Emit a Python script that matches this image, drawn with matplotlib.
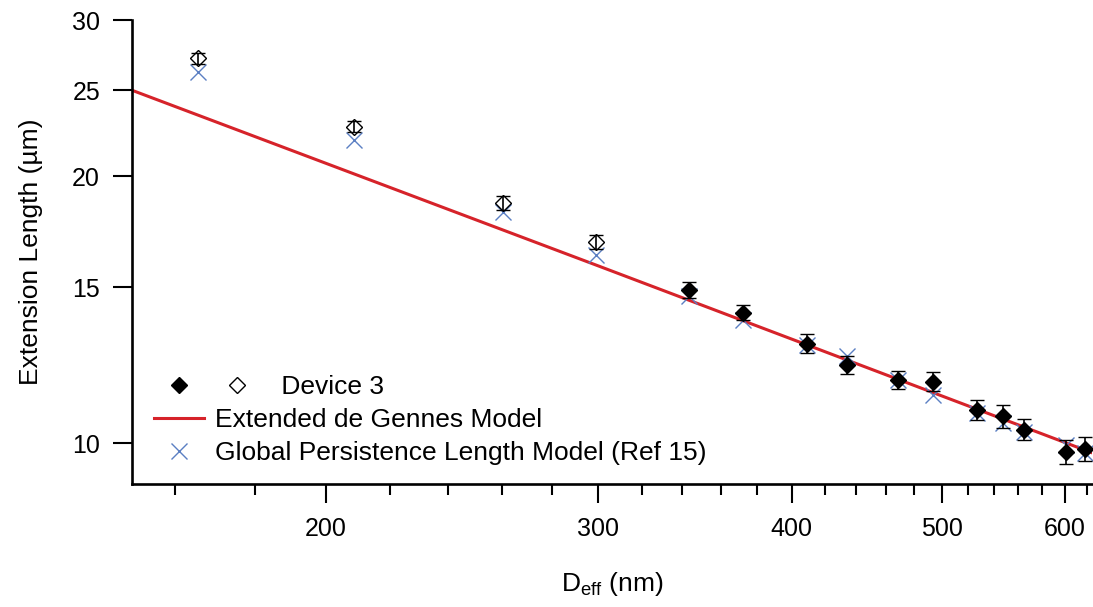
import matplotlib
matplotlib.use('Agg')
import matplotlib.pyplot as plt
from matplotlib.lines import Line2D
from matplotlib.legend_handler import HandlerBase
from matplotlib.ticker import FixedLocator, NullFormatter, NullLocator

plt.rcParams['font.family'] = ['Liberation Sans', 'DejaVu Sans']
plt.rcParams['mathtext.fontset'] = 'custom'
plt.rcParams['mathtext.rm'] = 'Liberation Sans'
plt.rcParams['mathtext.it'] = 'Liberation Sans:italic'

# ---- data ----
d_open = [165.4, 208.8, 260.4, 298.8]
ext_open = [27.16, 22.75, 18.65, 16.88]
err_open = [0.40, 0.33, 0.33, 0.30]

d_filled = [343.4, 371.8, 409.0, 434.0, 468.6, 493.7, 526.7, 547.8, 565.2, 601.2, 618.5]
ext_filled = [14.90, 14.04, 12.95, 12.26, 11.80, 11.74, 10.91, 10.73, 10.36, 9.79, 9.86]
err_filled = [0.31, 0.28, 0.32, 0.28, 0.27, 0.28, 0.29, 0.31, 0.28, 0.31, 0.30]

d_gplm = [165.4, 208.8, 260.4, 298.8, 343.4, 371.8, 409.0, 434.0, 468.6, 493.7,
          526.7, 547.8, 565.2, 601.2, 618.5]
ext_gplm = [26.2, 21.98, 18.25, 16.31, 14.64, 13.78, 12.9, 12.55, 11.80, 11.33,
            10.82, 10.54, 10.30, 9.96, 9.75]

model_d = [150, 300, 625]
model_ext = [25.0, 15.85, 9.76]

x_major = [200, 300, 400, 500, 600]
x_major_labels = ['200', '300', '400', '500', '600']
x_minor = [160, 180, 220, 240, 260, 280, 320, 340, 360, 380, 420, 440, 460, 480,
           520, 540, 560, 580, 620]
y_major = [10, 15, 20, 25, 30]
y_major_labels = ['10', '15', '20', '25', '30']

labels = ['         Device 3', 'Extended de Gennes Model',
          'Global Persistence Length Model (Ref 15)']

RED = '#D6232A'
BLUE = '#5B7FC3'
FS = 19
TFS = 18
MS = 8.3

W, H = 1093, 607
fig = plt.figure(figsize=(W / 100, H / 100), dpi=100)
ax = fig.add_axes([132 / W, 1 - 484 / H, 960 / W, 464 / H])
ax.set_xscale('log')
ax.set_yscale('log')

ax.plot(model_d, model_ext, color=RED, lw=2.2, zorder=2)
ax.plot(d_gplm, ext_gplm, ls='none', marker='x', ms=11, mew=1.0, color=BLUE, zorder=3)
ax.errorbar(d_open, ext_open, yerr=err_open, fmt='D', mfc='none', mec='k', ms=MS,
            mew=1.0, ecolor='k', elinewidth=1.2, capsize=4.8, capthick=1.2, zorder=4)
ax.errorbar(d_filled, ext_filled, yerr=err_filled, fmt='D', color='k', ms=MS,
            mew=1.0, ecolor='k', elinewidth=1.2, capsize=4.8, capthick=1.2, zorder=4)

ax.set_xlim(150, 625)
ax.set_ylim(9.0, 30)

ax.xaxis.set_major_locator(FixedLocator(x_major))
ax.set_xticklabels(x_major_labels)
ax.xaxis.set_minor_locator(FixedLocator(x_minor))
ax.xaxis.set_minor_formatter(NullFormatter())
ax.yaxis.set_major_locator(FixedLocator(y_major))
ax.set_yticklabels(y_major_labels)
ax.yaxis.set_minor_locator(NullLocator())

for s in ['top', 'right']:
    ax.spines[s].set_visible(False)
for s in ['left', 'bottom']:
    ax.spines[s].set_linewidth(1.9)

ax.tick_params(axis='both', which='major', direction='out', length=14, width=1.5,
               labelsize=TFS, colors='k')
ax.tick_params(axis='x', which='major', pad=10)
ax.tick_params(axis='y', which='major', pad=9)
ax.tick_params(axis='x', which='minor', direction='out', length=8, width=1.5)

ax.set_xlabel('D$_{\\mathrm{eff}}$ (nm)', fontsize=FS, labelpad=21)
ax.set_ylabel('Extension Length (\u00b5m)', fontsize=FS, labelpad=21)


class TwoDiamonds(HandlerBase):
    def create_artists(self, legend, orig_handle, xdescent, ydescent, width, height,
                       fontsize, trans):
        y = height / 2 - ydescent
        xc = width / 2 - xdescent
        a = Line2D([xc], [y], ls='none', marker='D', color='k', ms=MS, mew=1.0)
        b = Line2D([xc + 41.8], [y], ls='none', marker='D', mfc='none', mec='k',
                   ms=MS, mew=1.0)
        a.set_transform(trans)
        b.set_transform(trans)
        return [a, b]


h1 = Line2D([], [], ls='none', marker='D', color='k')
h2 = Line2D([], [], color=RED, lw=2.2)
h3 = Line2D([], [], ls='none', marker='x', ms=11, mew=1.0, color=BLUE)
ax.legend([h1, h2, h3], labels, handler_map={h1: TwoDiamonds()},
          loc='lower left', bbox_to_anchor=(0.023, 0.040), frameon=False,
          borderpad=0, borderaxespad=0, handlelength=1.9, handletextpad=0.42,
          labelspacing=0.34, fontsize=FS)

fig.savefig('out.png', dpi=100)
